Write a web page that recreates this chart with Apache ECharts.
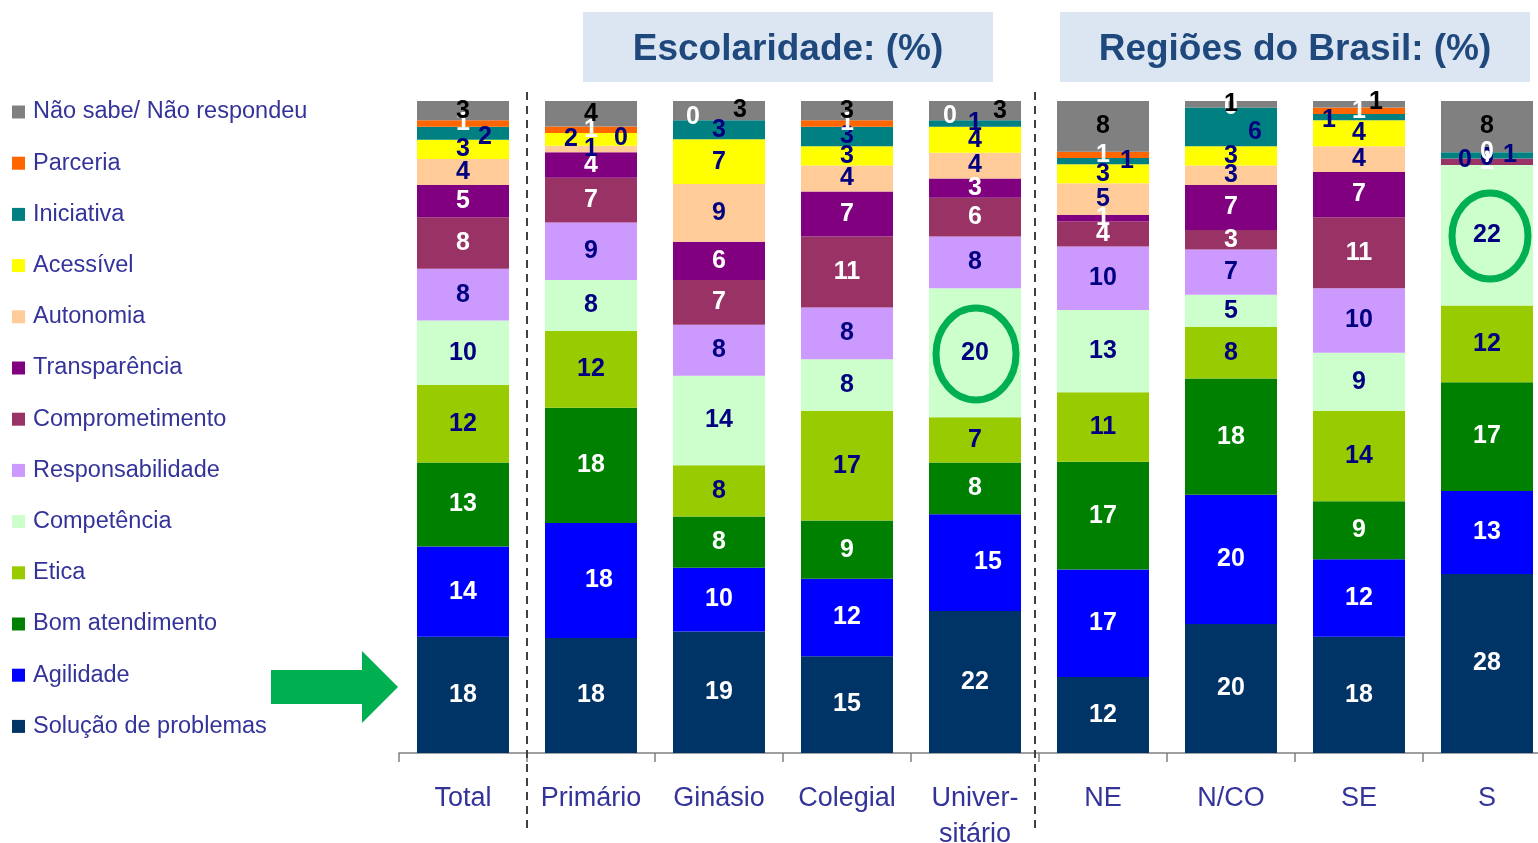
<!DOCTYPE html>
<html lang="pt">
<head>
    <meta charset="UTF-8">
    <title>Atributos - Escolaridade e Regiões</title>
    <script src="https://cdn.jsdelivr.net/npm/echarts@6/dist/echarts.min.js"></script>
    <style>
        html, body { margin: 0; padding: 0; background: #fff; }
    </style>
</head>
<body>
<div id="dom" style="width: 1538px;height: 843px"></div>
<script>
    // categorias (eixo x)
    var categories = ['Total', 'Primário', 'Ginásio', 'Colegial', 'Univer-\nsitário', 'NE', 'N/CO', 'SE', 'S'];

    // valores (%) de baixo para cima
    var solucao          = [18, 18, 19, 15, 22, 12, 20, 18, 28];
    var agilidade        = [14, 18, 10, 12, 15, 17, 20, 12, 13];
    var bomAtendimento   = [13, 18, 8, 9, 8, 17, 18, 9, 17];
    var etica            = [12, 12, 8, 17, 7, 11, 8, 14, 12];
    var competencia      = [10, 8, 14, 8, 20, 13, 5, 9, 22];
    var responsabilidade = [8, 9, 8, 8, 8, 10, 7, 10, 0];
    var comprometimento  = [8, 7, 7, 11, 6, 4, 3, 11, 1];
    var transparencia    = [5, 4, 6, 7, 3, 1, 7, 7, 0];
    var autonomia        = [4, 1, 9, 4, 4, 5, 3, 4, 0];
    var acessivel        = [3, 2, 7, 3, 4, 3, 3, 4, 0];
    var iniciativa       = [2, 0, 3, 3, 1, 1, 6, 1, 1];
    var parceria         = [1, 1, 0, 1, 0, 1, 0, 1, 0];
    var naoSabe          = [3, 4, 3, 3, 3, 8, 1, 1, 8];

    var seriesNames = ['Solução de problemas', 'Agilidade', 'Bom atendimento', 'Etica', 'Competência',
        'Responsabilidade', 'Comprometimento', 'Transparência', 'Autonomia', 'Acessível',
        'Iniciativa', 'Parceria', 'Não sabe/ Não respondeu'];
    var seriesValues = [solucao, agilidade, bomAtendimento, etica, competencia, responsabilidade,
        comprometimento, transparencia, autonomia, acessivel, iniciativa, parceria, naoSabe];

    var colors = ['#003366', '#0000FF', '#008000', '#99CC00', '#CCFFCC', '#CC99FF',
        '#993366', '#800080', '#FFCC99', '#FFFF00', '#008080', '#FF6600', '#808080'];
    var labelColors = ['#fff', '#fff', '#fff', '#000080', '#000080', '#000080',
        '#fff', '#fff', '#000080', '#000080', '#000080', '#fff', '#000'];

    // deslocamento dos rótulos pequenos  "serie_categoria": [dx, dy]
    var labelShift = {
        '10_0': [22, 4], '10_1': [30, 5], '10_5': [24, 0], '10_6': [24, 5], '10_7': [-30, 3], '10_8': [23, 0],
        '11_2': [-26, -3], '11_4': [-25, -4],
        '12_2': [21, 0], '12_4': [25, 0], '12_7': [17, -2],
        '9_1': [-20, 0],
        '5_8': [-22, -5],
        '1_4': [13, 0], '1_1': [8, 0]
    };

    function getEcharts() {
        var dom = document.getElementById("dom");
        var myCharts = echarts.init(dom);

        // soma por barra para normalizar a 100%
        var sums = categories.map(function (c, i) {
            var s = 0;
            seriesValues.forEach(function (arr) { s += arr[i]; });
            return s;
        });

        var series = seriesNames.map(function (name, si) {
            return {
                name: name,
                type: 'bar',
                stack: 'total',
                barWidth: 92,
                itemStyle: { color: colors[si] },
                data: seriesValues[si].map(function (v, ci) {
                    var item = { value: v / sums[ci] * 100 };
                    var sh = labelShift[si + '_' + ci];
                    if (sh) item.label = { offset: sh };
                    return item;
                }),
                label: {
                    show: true,
                    position: 'inside',
                    color: labelColors[si],
                    fontSize: 25,
                    fontWeight: 'bold',
                    fontFamily: 'Liberation Sans, Arial, sans-serif',
                    formatter: function (p) {
                        return seriesValues[p.seriesIndex][p.dataIndex];
                    }
                }
            };
        });

        var option = {
            animation: false,
            backgroundColor: '#fff',
            legend: {
                orient: 'vertical',
                left: 7,
                top: 95,
                itemWidth: 13,
                itemHeight: 13,
                itemGap: 27.2,
                icon: 'rect',
                selectedMode: false,
                data: seriesNames.slice().reverse(),
                textStyle: {
                    color: '#333399',
                    fontSize: 23.5,
                    lineHeight: 22,
                    fontFamily: 'Liberation Sans, Arial, sans-serif',
                    padding: [0, 0, 0, 3]
                }
            },
            grid: { left: 399, top: 101, width: 1152, height: 652, outerBoundsMode: 'none', containLabel: false },
            xAxis: {
                type: 'category',
                data: categories,
                axisLine: { show: true, lineStyle: { color: '#808080', width: 1.5 } },
                axisTick: { show: true, interval: 0, length: 9, lineStyle: { color: '#808080', width: 1.5 } },
                axisLabel: {
                    interval: 0,
                    color: '#333399',
                    fontSize: 27,
                    lineHeight: 36,
                    margin: 28,
                    fontFamily: 'Liberation Sans, Arial, sans-serif'
                }
            },
            yAxis: { type: 'value', min: 0, max: 100, show: false },
            graphic: [
                { type: 'rect', shape: { x: 583, y: 12, width: 410, height: 70 }, style: { fill: '#dce6f2' } },
                { type: 'text', x: 788, y: 50, style: { text: 'Escolaridade: (%)', fill: '#1f497d', font: 'bold 37px Liberation Sans, Arial, sans-serif', align: 'center', verticalAlign: 'middle' } },
                { type: 'rect', shape: { x: 1060, y: 12, width: 470, height: 70 }, style: { fill: '#dce6f2' } },
                { type: 'text', x: 1295, y: 50, style: { text: 'Regiões do Brasil: (%)', fill: '#1f497d', font: 'bold 37px Liberation Sans, Arial, sans-serif', align: 'center', verticalAlign: 'middle' } },
                { type: 'line', shape: { x1: 527, y1: 92, x2: 527, y2: 830 }, style: { stroke: '#404040', lineWidth: 2, lineDash: [8, 6] }, z: 10 },
                { type: 'line', shape: { x1: 1035, y1: 92, x2: 1035, y2: 830 }, style: { stroke: '#404040', lineWidth: 2, lineDash: [8, 6] }, z: 10 },
                { type: 'polygon', shape: { points: [[271, 670], [362, 670], [362, 651], [398, 687], [362, 723], [362, 704], [271, 704]] }, style: { fill: '#00B050' } },
                { type: 'ellipse', shape: { cx: 976, cy: 354, rx: 40, ry: 46 }, style: { fill: 'none', stroke: '#00B050', lineWidth: 7 }, z: 10 },
                { type: 'ellipse', shape: { cx: 1490, cy: 236, rx: 38, ry: 43 }, style: { fill: 'none', stroke: '#00B050', lineWidth: 7 }, z: 10 }
            ],
            series: series
        };
        myCharts.setOption(option);
    }
    getEcharts();
</script>
</body>
</html>
